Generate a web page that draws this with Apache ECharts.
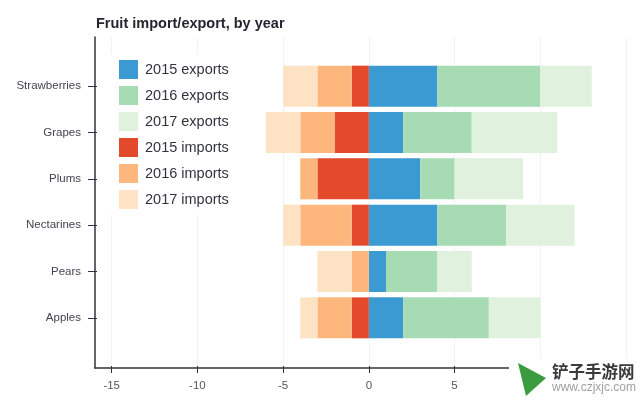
<!DOCTYPE html>
<html><head><meta charset="utf-8">
<style>html,body{margin:0;padding:0;background:#fff}#c{width:640px;height:401px}</style>
<script src="https://cdn.jsdelivr.net/npm/echarts@6/dist/echarts.min.js"></script>
</head><body><div id="c"></div>
<script>
const categories = ['Apples','Pears','Nectarines','Plums','Grapes','Strawberries'];
const exports2015 = [2,1,4,3,2,4];
const exports2016 = [5,3,4,2,4,6];
const exports2017 = [3,2,4,4,5,3];
const imports2015 = [-1,0,-1,-3,-2,-1];
const imports2016 = [-2,-1,-3,-1,-2,-2];
const imports2017 = [-1,-2,-1,0,-2,-2];
const seriesList = [
  ['2015 exports', exports2015, '#3a9ad1'],
  ['2016 exports', exports2016, '#a6dbb4'],
  ['2017 exports', exports2017, '#e0f2de'],
  ['2015 imports', imports2015, '#e34a2c'],
  ['2016 imports', imports2016, '#fdb67c'],
  ['2017 imports', imports2017, '#fee2c4']
];
const ink = '#33333f';
const font = '"Liberation Sans", Arial, sans-serif';
const chart = echarts.init(document.getElementById('c'), null, {renderer:'canvas'});
chart.setOption({
  animation:false,
  backgroundColor:'#fff',
  title:{text:'Fruit import/export, by year',left:96,top:16,padding:0,
    textStyle:{fontFamily:font,fontSize:14.5,fontWeight:'bold',color:'#25252f'}},
  legend:{orient:'vertical',left:111,top:54,padding:[6,8],itemWidth:19,itemHeight:19,itemGap:7,
    selectedMode:false,backgroundColor:'#fff',icon:'rect',z:5,
    textStyle:{fontFamily:font,fontSize:14.5,color:ink,padding:[0,0,0,2]},
    data:seriesList.map(s=>s[0])},
  grid:[
    {left:111.7,right:14,top:63,bottom:60},
    {left:111.7,right:14,top:37,bottom:33},
    {left:95,right:14,top:37,bottom:33},
    {left:97,right:14,top:86,bottom:83}
  ],
  xAxis:[
    {gridIndex:0,type:'value',min:-15,max:15,show:false},
    {gridIndex:1,type:'value',min:-15,max:15,interval:5,offset:-2,
      axisLine:{show:true,onZero:false,lineStyle:{color:ink,opacity:0}},
      axisTick:{show:true,length:7,lineStyle:{color:ink}},
      axisLabel:{fontFamily:font,fontSize:11.5,color:'#555560',margin:14,showMinLabel:true,showMaxLabel:true},
      splitLine:{show:true,lineStyle:{color:'#f1f2f5',width:1}}},
    {gridIndex:2,type:'value',min:0,max:1,
      axisLine:{show:true,onZero:false,lineStyle:{color:ink,width:1.5}},
      axisTick:{show:false},axisLabel:{show:false},splitLine:{show:false}},
    {gridIndex:3,type:'value',min:0,max:1,show:false}
  ],
  yAxis:[
    {gridIndex:0,type:'category',data:categories,offset:14.7,
      axisLine:{show:false},
      axisTick:{show:false},
      axisLabel:{fontFamily:font,fontSize:11.5,color:'#444450',margin:16},
      splitLine:{show:false}},
    {gridIndex:1,type:'value',min:0,max:1,show:false},
    {gridIndex:2,type:'value',min:0,max:1,
      axisLine:{show:true,onZero:false,lineStyle:{color:ink,width:1.5}},
      axisTick:{show:false},axisLabel:{show:false},splitLine:{show:false}},
    {gridIndex:3,type:'value',min:0,max:5,interval:1,
      axisLine:{show:true,onZero:false,lineStyle:{color:ink,opacity:0}},
      axisTick:{show:true,length:9,lineStyle:{color:ink}},
      axisLabel:{show:false},splitLine:{show:false}}
  ],
  series:seriesList.map(s=>({
    name:s[0],type:'bar',stack:'total',xAxisIndex:0,yAxisIndex:0,data:s[1],
    barWidth:41,itemStyle:{color:s[2]}
  })),
  graphic:[
    {type:'rect',z:20,shape:{x:509,y:358,width:131,height:43},style:{fill:'#fff'}},
    {type:'polygon',z:21,shape:{points:[[518,363],[546,378],[526,396]]},style:{fill:'#3b9c3f'}},
    {type:'text',z:21,x:552,y:363,style:{text:'铲子手游网',fill:'#3a3a3a',font:'bold 16.5px "Noto Sans CJK SC"'}},
    {type:'text',z:21,x:552,y:382,style:{text:'www.czjxjc.com',fill:'#a0a0a0',font:'12px '+font}}
  ]
});
</script></body></html>
